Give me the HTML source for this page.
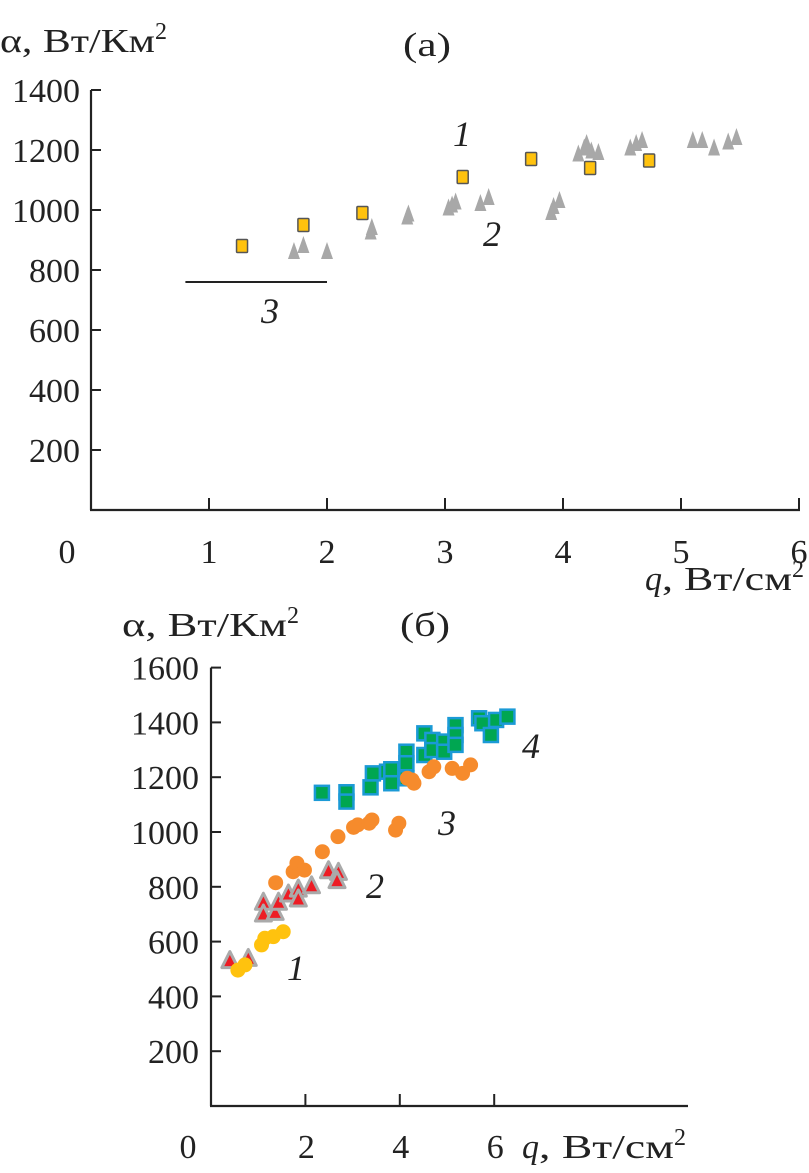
<!DOCTYPE html>
<html><head><meta charset="utf-8"><style>
html,body{margin:0;padding:0;background:#fff;}
svg{display:block;}
text{font-family:"Liberation Serif","DejaVu Serif",serif;}
</style></head><body>
<svg id="fig" width="809" height="1173" viewBox="0 0 809 1173">
<g id="top"></g>
<g id="bot"></g>
</svg>
<script>
// ---- Chart (a) data ----
const aXTicks = [0,1,2,3,4,5,6];
const aYTicks = [200,400,600,800,1000,1200,1400];
const aSquaresQ = [1.28,1.8,2.3,3.15,3.73,4.23,4.73];
const aSquaresA = [880,950,990,1110,1170,1140,1165];
const aTriQ = [1.72,1.8,2.0,2.37,2.38,2.68,2.69,3.03,3.06,3.09,3.3,3.37,3.9,3.92,3.97,4.13,4.18,4.2,4.24,4.3,4.57,4.62,4.67,5.1,5.18,5.28,5.4,5.47];
const aTriA = [860,880,860,925,940,975,985,1005,1015,1025,1020,1040,990,1010,1030,1185,1205,1220,1195,1190,1205,1220,1230,1230,1230,1205,1225,1240];
const aLineQ = [0.8,2.0];
const aLineA = [760,760];
// ---- Chart (b) data ----
const bXTicks = [0,2,4,6];
const bYTicks = [200,400,600,800,1000,1200,1400,1600];
const b1Q = [0.57,0.72,1.07,1.14,1.32,1.53];
const b1A = [496,515,588,612,618,636];
const b2Q = [0.40,0.79,1.11,1.11,1.36,1.43,1.64,1.85,1.85,2.13,2.49,2.70,2.67];
const b2A = [527,535,740,697,703,740,770,788,752,800,855,849,819];
const b3Q = [1.37,1.74,1.82,1.98,2.36,2.69,3.02,3.11,3.35,3.41,3.91,3.98,4.16,4.26,4.30,4.62,4.72,5.11,5.33,5.50];
const b3A = [815,855,886,861,928,983,1017,1026,1032,1044,1007,1032,1196,1190,1178,1220,1238,1232,1214,1245];
const b4Q = [2.35,2.87,2.87,3.38,3.43,3.73,3.82,3.82,4.14,4.14,4.14,4.52,4.52,4.69,4.69,4.94,4.94,5.18,5.18,5.18,5.68,5.75,5.93,6.04,6.28];
const b4A = [1143,1145,1111,1163,1214,1220,1229,1178,1293,1251,1196,1360,1281,1336,1299,1330,1293,1390,1354,1318,1415,1397,1354,1409,1421];

const NS="http://www.w3.org/2000/svg";
function mk(parent,tag,attrs,text){const e=document.createElementNS(NS,tag);for(const k in attrs)e.setAttribute(k,attrs[k]);if(text!==undefined)e.textContent=text;parent.appendChild(e);return e;}
const FF='"Liberation Serif","DejaVu Serif",serif';

// axis functions
const ax=q=>91+118*q, ay=a=>510-a*0.3;
const bx=q=>211+47.2*q, by=a=>1106-a*0.274;

// ---------- Chart a ----------
const T=document.getElementById('top');
let e;
e=mk(T,'line',{x1:ax(0),y1:ay(1400),x2:ax(0),y2:ay(0),stroke:'#222','stroke-width':2.2});


e=mk(T,'line',{x1:ax(0)-1,y1:ay(0),x2:ax(6)+1,y2:ay(0),stroke:'#222','stroke-width':2.2});


aYTicks.forEach(v=>{
  mk(T,'line',{x1:ax(0),y1:ay(v),x2:ax(0)+10,y2:ay(v),stroke:'#222','stroke-width':2});
  e=mk(T,'text',{x:80,y:ay(v)+12,'text-anchor':'end','font-size':34,fill:'#222','font-family':FF},String(v));
  
  
});
aXTicks.forEach(v=>{
  if(v>0) mk(T,'line',{x1:ax(v),y1:ay(0),x2:ax(v),y2:ay(0)-12,stroke:'#222','stroke-width':2});
  e=mk(T,'text',{x:v===0?67:ax(v),y:563,'text-anchor':'middle','font-size':34,fill:'#222','font-family':FF},String(v));
  
  
});
e=mk(T,'line',{x1:ax(aLineQ[0]),y1:ay(aLineA[0]),x2:ax(aLineQ[1]),y2:ay(aLineA[1]),stroke:'#222','stroke-width':2});


aTriQ.forEach((q,i)=>{
  const x=ax(q),y=ay(aTriA[i]);
  e=mk(T,'polygon',{points:`${x},${y-10} ${x-6},${y+7} ${x+6},${y+7}`,fill:'#a8a8a8'});
  
  
});
aSquaresQ.forEach((q,i)=>{
  const x=ax(q),y=ay(aSquaresA[i]);
  e=mk(T,'rect',{x:x-5.5,y:y-6.5,width:11,height:13,fill:'#ffc20e',stroke:'#555','stroke-width':1.5,rx:1});
  
  
});
[['1',462,146,'label-1-a'],['2',492,246,'label-2-a'],['3',270,323,'label-3-a']].forEach(l=>{
  e=mk(T,'text',{x:l[1],y:l[2],'font-size':36,'font-style':'italic',fill:'#222','text-anchor':'middle','font-family':FF},l[0]);
  
  
});
e=mk(T,'text',{x:0,y:52,'font-size':34,fill:'#222','font-family':FF});


e.innerHTML='<tspan textLength="155" lengthAdjust="spacingAndGlyphs">α, Вт/Км</tspan><tspan font-size="24" dy="-13">2</tspan>';
e=mk(T,'text',{x:403,y:56,'font-size':34,fill:'#222','font-family':FF,textLength:48,lengthAdjust:'spacingAndGlyphs'},'(а)');


e=mk(T,'text',{x:645,y:590,'font-size':34,fill:'#222','font-family':FF});


e.innerHTML='<tspan font-style="italic">q</tspan><tspan textLength="130" lengthAdjust="spacingAndGlyphs">, Вт/см</tspan><tspan font-size="24" dy="-13">2</tspan>';

// ---------- Chart b ----------
const B=document.getElementById('bot');
e=mk(B,'line',{x1:bx(0),y1:by(1600),x2:bx(0),y2:by(0),stroke:'#222','stroke-width':2.2});


e=mk(B,'line',{x1:bx(0)-1,y1:by(0),x2:688,y2:by(0),stroke:'#222','stroke-width':2.2});


bYTicks.forEach(v=>{
  mk(B,'line',{x1:bx(0),y1:by(v),x2:bx(0)+10,y2:by(v),stroke:'#222','stroke-width':2});
  e=mk(B,'text',{x:199,y:by(v)+12,'text-anchor':'end','font-size':34,fill:'#222','font-family':FF},String(v));
  
  
});
bXTicks.forEach(v=>{
  if(v>0) mk(B,'line',{x1:bx(v),y1:by(0),x2:bx(v),y2:by(0)-12,stroke:'#222','stroke-width':2});
  e=mk(B,'text',{x:v===0?188:bx(v)+1,y:1158,'text-anchor':'middle','font-size':34,fill:'#222','font-family':FF},String(v));
  
  
});
b4Q.forEach((q,i)=>{
  const x=bx(q),y=by(b4A[i]);
  e=mk(B,'rect',{x:x-7,y:y-7,width:14,height:14,fill:'#00a651',stroke:'#1b9ad6','stroke-width':2.5});
  
  
});
b3Q.forEach((q,i)=>{
  e=mk(B,'circle',{cx:bx(q),cy:by(b3A[i]),r:7.5,fill:'#f68b2c'});
  
  
});
b2Q.forEach((q,i)=>{
  const x=bx(q),y=by(b2A[i]);
  e=mk(B,'polygon',{points:`${x},${y-10} ${x-8},${y+6} ${x+8},${y+6}`,fill:'#ed1c24',stroke:'#aaa','stroke-width':3,'stroke-linejoin':'round'});
  
  
});
b1Q.forEach((q,i)=>{
  e=mk(B,'circle',{cx:bx(q),cy:by(b1A[i]),r:7.5,fill:'#ffc20e'});
  
  
});
[['1',296,980,'label-1-b'],['2',375,898,'label-2-b'],['3',447,835,'label-3-b'],['4',531,758,'label-4-b']].forEach(l=>{
  e=mk(B,'text',{x:l[1],y:l[2],'font-size':36,'font-style':'italic',fill:'#222','text-anchor':'middle','font-family':FF},l[0]);
  
  
});
e=mk(B,'text',{x:122,y:636,'font-size':34,fill:'#222','font-family':FF});


e.innerHTML='<tspan textLength="165" lengthAdjust="spacingAndGlyphs">α, Вт/Км</tspan><tspan font-size="24" dy="-13">2</tspan>';
e=mk(B,'text',{x:400,y:636,'font-size':34,fill:'#222','font-family':FF,textLength:50,lengthAdjust:'spacingAndGlyphs'},'(б)');


e=mk(B,'text',{x:522,y:1158,'font-size':34,fill:'#222','font-family':FF});


e.innerHTML='<tspan font-style="italic">q</tspan><tspan textLength="135" lengthAdjust="spacingAndGlyphs">, Вт/см</tspan><tspan font-size="24" dy="-13">2</tspan>';
</script>
</body></html>
